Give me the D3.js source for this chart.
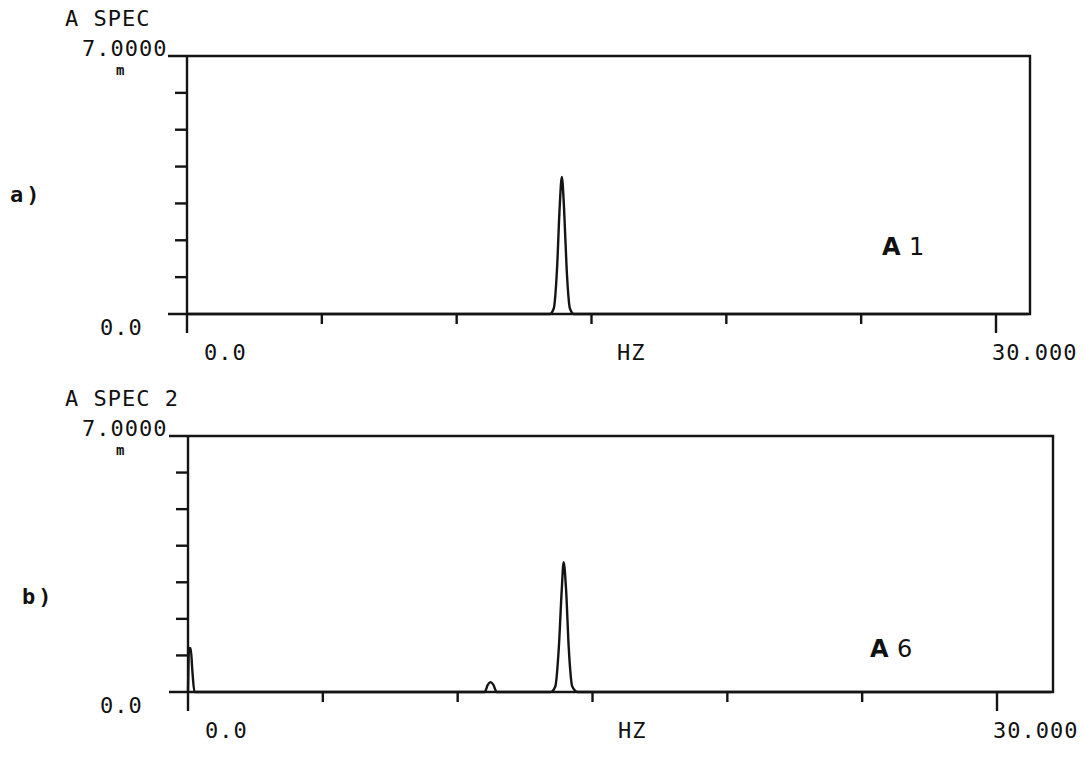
<!DOCTYPE html>
<html>
<head>
<meta charset="utf-8">
<script src="https://cdn.jsdelivr.net/npm/d3@7"></script>
<style>
  body { margin: 0; background: #fff; }
  svg text { font-family: "DejaVu Sans Mono", monospace; fill: #111; }
</style>
</head>
<body>
<div id="chart"></div>
<script>
// spectrum a) : frequency (Hz) / amplitude (m)
const freqA = [0, 13.45, 13.6, 13.72, 13.82, 13.9, 13.98, 14.08, 14.2, 14.35, 31.2];
const ampA  = [0, 0, 0.15, 1.2, 2.9, 3.72, 2.9, 1.2, 0.15, 0, 0];

// spectrum b)
const freqB = [0, 0.04, 0.1, 0.16, 0.24, 11.0, 11.12, 11.22, 11.32, 11.45, 13.45, 13.62, 13.75, 13.86, 13.93, 14.02, 14.12, 14.25, 14.45, 32.0];
const ampB  = [0, 1.2, 1.2, 0.6, 0, 0, 0.2, 0.27, 0.2, 0, 0, 0.15, 1.2, 2.8, 3.55, 2.8, 1.2, 0.15, 0, 0];

const xTicks = [0, 5, 10, 15, 20, 25, 30];
const yTicks = [0, 1, 2, 3, 4, 5, 6, 7];

const width = 1084, height = 757;

const svg = d3.select("#chart").append("svg")
    .attr("width", width)
    .attr("height", height);

const panels = [
    {freq: freqA, amp: ampA, title: "A SPEC", tag: "a)", tagX: 10, tagY: 202, name: "1", nameX: 882, nameY: 255,
     left: 187, right: 1030, top: 56, bottom: 314},
    {freq: freqB, amp: ampB, title: "A SPEC 2", tag: "b)", tagX: 22, tagY: 604, name: "6", nameX: 870, nameY: 657,
     left: 188, right: 1053, top: 436, bottom: 692}
];

panels.forEach(function(p) {
    const x = d3.scaleLinear().domain([0, 30]).range([p.left, p.left + 809]);
    const y = d3.scaleLinear().domain([0, 7]).range([p.bottom, p.top]);
    const g = svg.append("g");
    const ink = "#141414";
    const sw = 2.4;

    // frame: top line, right side, baseline
    g.append("path")
        .attr("d", `M${p.left - 19},${p.top} H${p.right} V${p.bottom} H${p.left - 19}`)
        .attr("fill", "none").attr("stroke", ink).attr("stroke-width", sw);
    g.append("line")
        .attr("x1", p.left).attr("x2", p.left)
        .attr("y1", p.top).attr("y2", p.bottom)
        .attr("stroke", ink).attr("stroke-width", sw);

    // y ticks
    g.selectAll(".yt").data(yTicks.slice(1, -1)).enter().append("line")
        .attr("x1", p.left - 12).attr("x2", p.left)
        .attr("y1", d => y(d)).attr("y2", d => y(d))
        .attr("stroke", ink).attr("stroke-width", sw);

    // x ticks (ends longer)
    g.selectAll(".xt").data(xTicks).enter().append("line")
        .attr("x1", d => x(d)).attr("x2", d => x(d))
        .attr("y1", p.bottom)
        .attr("y2", (d, i) => p.bottom + (i === 0 || i === xTicks.length - 1 ? 19 : 10))
        .attr("stroke", ink).attr("stroke-width", sw);

    // spectrum
    const line = d3.line()
        .x((d, i) => x(p.freq[i]))
        .y(d => y(d))
        .curve(d3.curveMonotoneX);
    g.append("path")
        .datum(p.amp)
        .attr("d", line)
        .attr("fill", "none").attr("stroke", ink).attr("stroke-width", sw);

    // labels
    const lab = (tx, ty, s) => g.append("text").attr("x", tx).attr("y", ty)
        .attr("font-size", 22).attr("letter-spacing", 1).text(s);
    lab(65, p.top - 30, p.title);
    lab(82, p.top, "7.0000");
    lab(100, p.bottom + 21, "0.0");
    lab(x(0) + 17, p.bottom + 46, "0.0");
    lab(x(15.95), p.bottom + 46, "HZ");
    lab(x(29.85), p.bottom + 46, "30.000");

    g.append("text").attr("x", 116).attr("y", p.top + 19)
        .attr("font-size", 14).attr("font-weight", "bold").text("m");

    g.append("text").attr("x", p.tagX).attr("y", p.tagY)
        .attr("font-family", "DejaVu Sans").attr("font-weight", "bold")
        .attr("letter-spacing", 3).attr("font-size", 22).text(p.tag);

    const nm = g.append("text").attr("x", p.nameX).attr("y", p.nameY).attr("font-size", 24);
    nm.append("tspan").attr("font-family", "DejaVu Sans").attr("font-weight", "bold").text("A ");
    nm.append("tspan").attr("font-family", "DejaVu Sans").text(p.name);
});
</script>
</body>
</html>
